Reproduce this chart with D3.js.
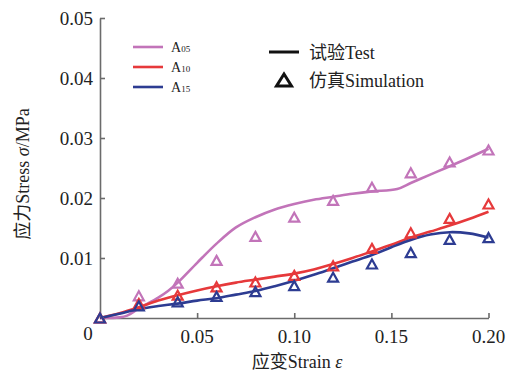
<!DOCTYPE html>
<html>
<head>
<meta charset="utf-8">
<script src="https://cdn.jsdelivr.net/npm/d3@7"></script>
<style>
  html, body { margin: 0; padding: 0; background: #fff; }
</style>
</head>
<body>
<svg id="chart" width="513" height="374"></svg>
<script>
// Strain values at which simulation results were sampled
const simStrain = [0, 0.02, 0.04, 0.06, 0.08, 0.10, 0.12, 0.14, 0.16, 0.18, 0.20];

// Simulation stress (MPa)
const simA05 = [0, 0.0037, 0.0058, 0.0096, 0.0136, 0.0168, 0.0196, 0.0218, 0.0242, 0.0260, 0.0280];
const simA10 = [0, 0.0024, 0.0038, 0.0052, 0.0060, 0.0071, 0.0087, 0.0116, 0.0142, 0.0166, 0.0190];
const simA15 = [0, 0.0020, 0.0027, 0.0036, 0.0044, 0.0054, 0.0068, 0.0090, 0.0109, 0.0131, 0.0134];

// Test curves: strain / stress pairs
const testA05Strain = [0, 0.010, 0.014, 0.020, 0.030, 0.035, 0.040, 0.050, 0.060, 0.070, 0.080, 0.090, 0.100, 0.110, 0.120, 0.130, 0.140, 0.153, 0.160, 0.170, 0.178, 0.190, 0.200];
const testA05Stress = [0, 0.0001, 0.0004, 0.0016, 0.0034, 0.0045, 0.0059, 0.0092, 0.0124, 0.0151, 0.0168, 0.0181, 0.0190, 0.0197, 0.0202, 0.0207, 0.0211, 0.0215, 0.0225, 0.0239, 0.0250, 0.0267, 0.0282];

const testA10Strain = [0, 0.010, 0.020, 0.030, 0.040, 0.050, 0.060, 0.070, 0.080, 0.090, 0.100, 0.110, 0.120, 0.130, 0.140, 0.150, 0.160, 0.170, 0.180, 0.190, 0.200];
const testA10Stress = [0, 0.0008, 0.0018, 0.0029, 0.0038, 0.0046, 0.0053, 0.0059, 0.0064, 0.0069, 0.0074, 0.0081, 0.0090, 0.0100, 0.0111, 0.0122, 0.0134, 0.0144, 0.0154, 0.0165, 0.0177];

const testA15Strain = [0, 0.010, 0.020, 0.030, 0.040, 0.050, 0.060, 0.070, 0.080, 0.090, 0.100, 0.110, 0.120, 0.130, 0.140, 0.150, 0.160, 0.170, 0.180, 0.190, 0.200];
const testA15Stress = [0, 0.0007, 0.0015, 0.0020, 0.0024, 0.0029, 0.0033, 0.0039, 0.0045, 0.0053, 0.0062, 0.0072, 0.0083, 0.0094, 0.0105, 0.0118, 0.0130, 0.0139, 0.0143, 0.0141, 0.0134];

// Axis ticks
const xTicks = [0.05, 0.10, 0.15, 0.20];
const yTicks = [0.01, 0.02, 0.03, 0.04, 0.05];
const xTickLabels = ["0.05", "0.10", "0.15", "0.20"];
const yTickLabels = ["0.01", "0.02", "0.03", "0.04", "0.05"];

const seriesNames = ["A", "A", "A"];
const seriesSubs = ["05", "10", "15"];
const seriesColors = ["#c274b9", "#e6393b", "#2d3c92"];

const FONT = "'Liberation Serif', 'Times New Roman', 'DejaVu Serif', 'Noto Sans CJK SC', serif";

const svg = d3.select("#chart").attr("font-family", FONT);
const axisColor = "#6b6b6b";

const x = d3.scaleLinear().domain([0, 0.20]).range([100, 488.5]);
const y = d3.scaleLinear().domain([0, 0.05]).range([318, 18]);

// Axes: ticks point inward
const xAxis = d3.axisBottom(x).tickValues(xTicks).tickSize(-5).tickSizeOuter(0).tickFormat("");
const yAxis = d3.axisLeft(y).tickValues(yTicks).tickSize(-5).tickSizeOuter(0).tickFormat("");

const gx = svg.append("g").attr("transform", `translate(0,${y(0)})`).call(xAxis);
const gy = svg.append("g").attr("transform", `translate(${x(0)},0)`).call(yAxis);
[gx, gy].forEach(g => {
  g.attr("font-family", null);
  g.selectAll("path, line").attr("stroke", axisColor).attr("stroke-width", 1.6);
});

// Tick labels
svg.append("g").selectAll("text").data(xTicks).join("text")
  .attr("font-family", FONT)
  .attr("x", d => x(d)).attr("y", 343)
  .attr("text-anchor", "middle").attr("font-size", 19).attr("fill", "#222")
  .text((d, i) => xTickLabels[i]);
svg.append("g").selectAll("text").data(yTicks).join("text")
  .attr("font-family", FONT)
  .attr("x", 93).attr("y", d => y(d) + 7)
  .attr("text-anchor", "end").attr("font-size", 19).attr("fill", "#222")
  .text((d, i) => yTickLabels[i]);
svg.append("text").attr("font-family", FONT).attr("x", 88).attr("y", 340).attr("text-anchor", "middle")
  .attr("font-size", 19).attr("fill", "#222").text("0");

// Axis titles
const xt = svg.append("text").attr("font-family", FONT).attr("x", 297).attr("y", 368).attr("text-anchor", "middle")
  .attr("font-size", 18).attr("fill", "#222");
xt.append("tspan").text("应变Strain ");
xt.append("tspan").attr("font-style", "italic").text("ε");

const yt = svg.append("text").attr("font-family", FONT).attr("transform", "translate(29,174) rotate(-90)")
  .attr("text-anchor", "middle").attr("font-size", 18).attr("fill", "#222");
yt.append("tspan").text("应力Stress ");
yt.append("tspan").attr("font-style", "italic").text("σ");
yt.append("tspan").text("/MPa");

// Test curves
const testData = [
  testA05Strain.map((s, i) => [s, testA05Stress[i]]),
  testA10Strain.map((s, i) => [s, testA10Stress[i]]),
  testA15Strain.map((s, i) => [s, testA15Stress[i]])
];
const line = d3.line().x(d => x(d[0])).y(d => y(d[1])).curve(d3.curveCatmullRom.alpha(0.5));
svg.append("g").selectAll("path").data(testData).join("path")
  .attr("d", line).attr("fill", "none")
  .attr("stroke", (d, i) => seriesColors[i]).attr("stroke-width", 2.6)
  .attr("stroke-linejoin", "round");

// Simulation markers: open triangles
function tri(cx, cy, w, h) {
  return `M${cx},${cy - h / 2}L${cx + w / 2},${cy + h / 2}L${cx - w / 2},${cy + h / 2}Z`;
}
const simData = [simA05, simA10, simA15];
simData.forEach((vals, k) => {
  svg.append("g").selectAll("path").data(vals).join("path")
    .attr("d", (d, i) => tri(x(simStrain[i]), y(d), 10, 9))
    .attr("fill", "none").attr("stroke", seriesColors[k]).attr("stroke-width", 2.2)
    .attr("stroke-linejoin", "miter");
});

// Legend: series colours
const legY = [47, 67, 87];
seriesColors.forEach((c, i) => {
  svg.append("line").attr("x1", 133).attr("x2", 163).attr("y1", legY[i]).attr("y2", legY[i])
    .attr("stroke", c).attr("stroke-width", 2.6);
  const t = svg.append("text").attr("font-family", FONT).attr("x", 171).attr("y", legY[i] + 5)
    .attr("font-size", 14).attr("fill", "#222");
  t.append("tspan").text(seriesNames[i]);
  t.append("tspan").attr("font-size", 9).text(seriesSubs[i]);
});

// Legend: test vs simulation
svg.append("line").attr("x1", 269).attr("x2", 299).attr("y1", 52).attr("y2", 52)
  .attr("stroke", "#111").attr("stroke-width", 3);
svg.append("text").attr("font-family", FONT).attr("x", 309).attr("y", 59).attr("font-size", 18).attr("fill", "#222")
  .text("试验Test");
svg.append("path").attr("d", tri(284, 80, 15, 12)).attr("fill", "none")
  .attr("stroke", "#111").attr("stroke-width", 3);
svg.append("text").attr("font-family", FONT).attr("x", 309).attr("y", 87).attr("font-size", 18).attr("fill", "#222")
  .text("仿真Simulation");
</script>
</body>
</html>
